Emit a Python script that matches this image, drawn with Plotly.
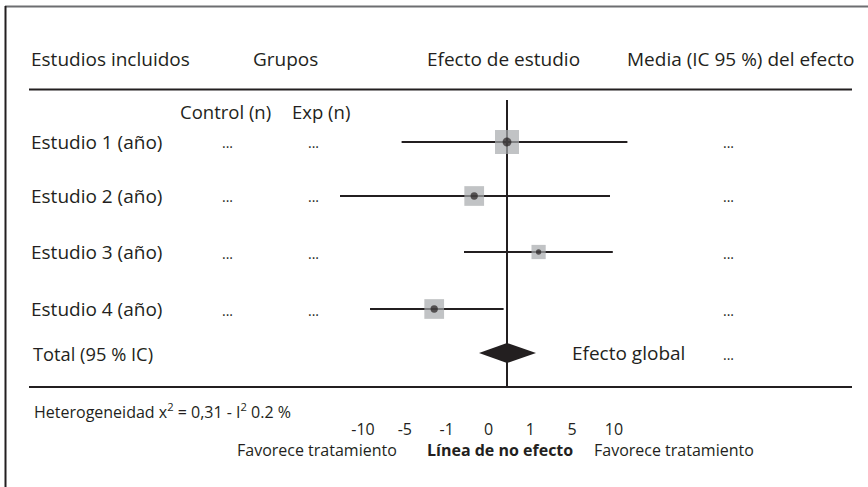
import plotly.graph_objects as go

# ---------------- data ----------------
STUDIES = ["Estudio 1 (año)", "Estudio 2 (año)", "Estudio 3 (año)", "Estudio 4 (año)"]
CONTROL_N = ["...", "...", "...", "..."]
EXP_N = ["...", "...", "...", "..."]
EFFECT_TEXT = ["...", "...", "...", "..."]
EST = [0.0, -1.64, 1.58, -3.64]
LO = [-5.27, -8.35, -2.15, -6.85]
HI = [6.02, 5.15, 5.29, -0.17]
WEIGHT = [37, 25, 13, 25]
OVERALL_EST = 0.0
OVERALL_LO = -1.4
OVERALL_HI = 1.45
OVERALL_TEXT = "..."
TICK_LABELS = ["-10", "-5", "-1", "0", "1", "5", "10"]
HETERO = "Heterogeneidad x<sup>2</sup> = 0,31 - I<sup>2</sup> 0.2 %"

# ---------------- layout constants ----------------
W, H = 868, 487
ROW_Y = [142, 196, 252, 309]
TOTAL_Y = 353
X0_PX = 507          # pixel of "no effect"
PX_PER_UNIT = 20
DOM_PX = (300, 720)
FONT = "Open Sans"
TXT = "#231f20"
SQ = "#a7a9ac"


def px(x):
    return x / W


def py(y):
    return 1 - y / H


fig = go.Figure()

# CI lines + weight squares
sizes = [24 * (w / WEIGHT[0]) ** 0.5 for w in WEIGHT]
fig.add_trace(go.Scatter(
    x=EST, y=ROW_Y, mode="markers",
    marker=dict(symbol="square", size=sizes, color=SQ, line=dict(width=0)),
    error_x=dict(type="data", symmetric=False,
                 array=[h - e for h, e in zip(HI, EST)],
                 arrayminus=[e - l for e, l in zip(EST, LO)],
                 color=TXT, thickness=2, width=0),
    showlegend=False, hoverinfo="skip"))
fig.add_trace(go.Scatter(
    x=EST, y=ROW_Y, mode="markers",
    marker=dict(symbol="circle", size=[s * 0.37 for s in sizes], color=TXT, line=dict(width=0)),
    showlegend=False, hoverinfo="skip"))

# overall diamond
DH = 10
fig.add_trace(go.Scatter(
    x=[OVERALL_LO, OVERALL_EST, OVERALL_HI, OVERALL_EST, OVERALL_LO],
    y=[TOTAL_Y, TOTAL_Y - DH, TOTAL_Y, TOTAL_Y + DH, TOTAL_Y],
    mode="lines", fill="toself", fillcolor=TXT, line=dict(color=TXT, width=0),
    showlegend=False, hoverinfo="skip"))

# tick-label axis trace (empty)
fig.add_trace(go.Scatter(x=[None], y=[None], xaxis="x2", yaxis="y", showlegend=False, hoverinfo="skip"))

# line of no effect
fig.add_shape(type="line", xref="x", yref="y", x0=0, x1=0, y0=100, y1=387,
              line=dict(color=TXT, width=2), layer="below")

# frame and separators
fig.add_shape(type="line", xref="paper", yref="paper", x0=px(5), x1=1, y0=py(6.5), y1=py(6.5),
              line=dict(color="#6d6e71", width=2))
fig.add_shape(type="line", xref="paper", yref="paper", x0=px(5.5), x1=px(5.5), y0=py(6), y1=0,
              line=dict(color=TXT, width=2))
for yy in (89.5, 387):
    fig.add_shape(type="line", xref="paper", yref="paper", x0=px(29), x1=px(852), y0=py(yy), y1=py(yy),
                  line=dict(color=TXT, width=2))

ann = []


def text(x, y, s, size=19, anchor="left"):
    if anchor == "left":
        x -= 2
    ann.append(dict(x=px(x), y=py(y), xref="paper", yref="paper", text=s, showarrow=False,
                    xanchor=anchor, yanchor="middle",
                    font=dict(family=FONT, size=size, color=TXT)))


# headers
text(31, 59, "Estudios incluidos")
text(253, 59, "Grupos")
text(427, 59, "Efecto de estudio")
text(627, 59, "Media (IC 95 %) del efecto")
text(180, 112, "Control (n)", size=18.5)
text(292, 112, "Exp (n)", size=18.5)

for i, name in enumerate(STUDIES):
    text(31, ROW_Y[i], name)
    text(227, ROW_Y[i] + 1, CONTROL_N[i], size=14, anchor="center")
    text(313, ROW_Y[i] + 1, EXP_N[i], size=14, anchor="center")
    text(728, ROW_Y[i] + 1, EFFECT_TEXT[i], size=14, anchor="center")

text(33, TOTAL_Y, "Total (95 % IC)", size=18.3)
text(572, TOTAL_Y, "Efecto global")
text(728, TOTAL_Y + 1, OVERALL_TEXT, size=14, anchor="center")

text(34, 411, HETERO, size=16)
text(237, 450, "Favorece tratamiento", size=16)
text(427, 450, "<b>Línea de no efecto</b>", size=16)
text(594, 450, "Favorece tratamiento", size=16)

tick_c0, tick_c1 = 363, 614
step = (tick_c1 - tick_c0) / (len(TICK_LABELS) - 1)

fig.update_layout(
    width=W, height=H, margin=dict(l=0, r=0, t=0, b=0),
    paper_bgcolor="white", plot_bgcolor="rgba(0,0,0,0)",
    xaxis=dict(domain=[px(DOM_PX[0]), px(DOM_PX[1])],
               range=[(DOM_PX[0] - X0_PX) / PX_PER_UNIT, (DOM_PX[1] - X0_PX) / PX_PER_UNIT],
               visible=False, fixedrange=True),
    yaxis=dict(domain=[0, 1], range=[H, 0], visible=False, fixedrange=True),
    xaxis2=dict(domain=[px(tick_c0 - step / 2), px(tick_c1 + step / 2)],
                range=[-0.5, len(TICK_LABELS) - 0.5],
                tickvals=list(range(len(TICK_LABELS))), ticktext=TICK_LABELS,
                anchor="free", position=py(418), side="bottom",
                showline=False, showgrid=False, zeroline=False, ticks="",
                tickfont=dict(family=FONT, size=16, color=TXT), fixedrange=True),
    annotations=ann,
    showlegend=False,
)

fig.write_html("out.html", config={"displayModeBar": False},
               post_script="document.body.style.margin='0';")
